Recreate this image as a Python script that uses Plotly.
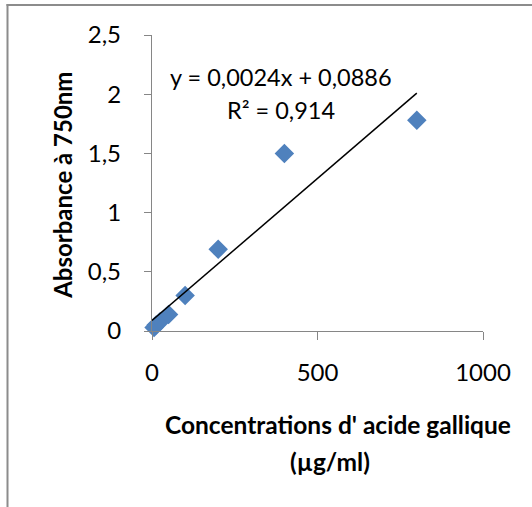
import plotly.graph_objects as go

# Data
concentrations = [6.25, 12.5, 25, 50, 100, 200, 400, 800]
absorbance = [0.03, 0.05, 0.08, 0.14, 0.30, 0.69, 1.50, 1.78]
slope = 0.0024
intercept = 0.0886
trend_x = [0, 800]
x_ticks = [0, 500, 1000]
x_ticklabels = ["0", "500", "1000"]
y_ticks = [0, 0.5, 1, 1.5, 2, 2.5]
y_ticklabels = ["0", "0,5", "1", "1,5", "2", "2,5"]
eq_text = "y = 0,0024x + 0,0886"
r2_text = "R² = 0,914"
x_title_1 = "Concentrations d' acide gallique"
x_title_2 = "(µg/ml)"
y_title = "Absorbance à 750nm"

W, H = 532, 507
L, R_px, T, B_px = 152, 483, 35, 331.3
pw, ph = R_px - L, B_px - T

def px2x(px):
    return (px - L) / pw

def px2y(py):
    return (B_px - py) / ph

FONT = "Lato"
axis_col = "#868686"

fig = go.Figure()
fig.add_trace(go.Scatter(
    x=concentrations, y=absorbance, mode="markers",
    marker=dict(symbol="diamond", size=15, color="#4F81BD",
                line=dict(width=0)),
    showlegend=False, cliponaxis=False))
fig.add_trace(go.Scatter(
    x=trend_x, y=[slope * v + intercept for v in trend_x], mode="lines",
    line=dict(color="black", width=1.5), showlegend=False, cliponaxis=False))

fig.update_layout(
    width=W, height=H,
    margin=dict(l=L, r=W - R_px, t=T, b=H - B_px, pad=0),
    paper_bgcolor="white", plot_bgcolor="white",
    font=dict(family=FONT, size=24, color="black"),
    xaxis=dict(range=[0, 1000], tickvals=x_ticks, ticktext=x_ticklabels,
               showgrid=False, zeroline=False, showline=True,
               linecolor=axis_col, linewidth=1.3, ticks="outside",
               ticklen=8, tickcolor=axis_col, tickwidth=1.3,
               ticklabelstandoff=12, fixedrange=True),
    yaxis=dict(range=[0, 2.5], tickvals=y_ticks, ticktext=y_ticklabels,
               showgrid=False, zeroline=False, showline=True,
               linecolor=axis_col, linewidth=1.3, ticks="outside",
               ticklen=7, tickcolor=axis_col, tickwidth=1.3,
               ticklabelstandoff=18, fixedrange=True),
    shapes=[
        dict(type="line", xref="paper", yref="paper",
             x0=px2x(7.5), x1=px2x(7.5), y0=px2y(4), y1=px2y(520),
             line=dict(color="#8c8c8c", width=2)),
        dict(type="line", xref="paper", yref="paper",
             x0=px2x(6.5), x1=px2x(540), y0=px2y(5), y1=px2y(5),
             line=dict(color="#8c8c8c", width=2)),
    ],
    annotations=[
        dict(text=eq_text, xref="paper", yref="paper", x=px2x(281), y=px2y(77),
             showarrow=False, xanchor="center", yanchor="middle",
             font=dict(size=23.5)),
        dict(text=r2_text, xref="paper", yref="paper", x=px2x(281), y=px2y(110),
             showarrow=False, xanchor="center", yanchor="middle",
             font=dict(size=23.5)),
        dict(text="<b>" + x_title_1 + "</b>", xref="paper", yref="paper",
             x=px2x(338), y=px2y(425), showarrow=False,
             xanchor="center", yanchor="middle", font=dict(size=24.5)),
        dict(text="<b>" + x_title_2 + "</b>", xref="paper", yref="paper",
             x=px2x(330), y=px2y(462), showarrow=False,
             xanchor="center", yanchor="middle", font=dict(size=24.5)),
        dict(text="<b>" + y_title + "</b>", xref="paper", yref="paper",
             x=px2x(63), y=px2y(186), showarrow=False, textangle=-90,
             xanchor="center", yanchor="middle", font=dict(size=24)),
    ],
)

fig.write_html("out.html", config={"displayModeBar": False},
               post_script="document.body.style.margin='0';document.body.style.overflow='hidden';")
